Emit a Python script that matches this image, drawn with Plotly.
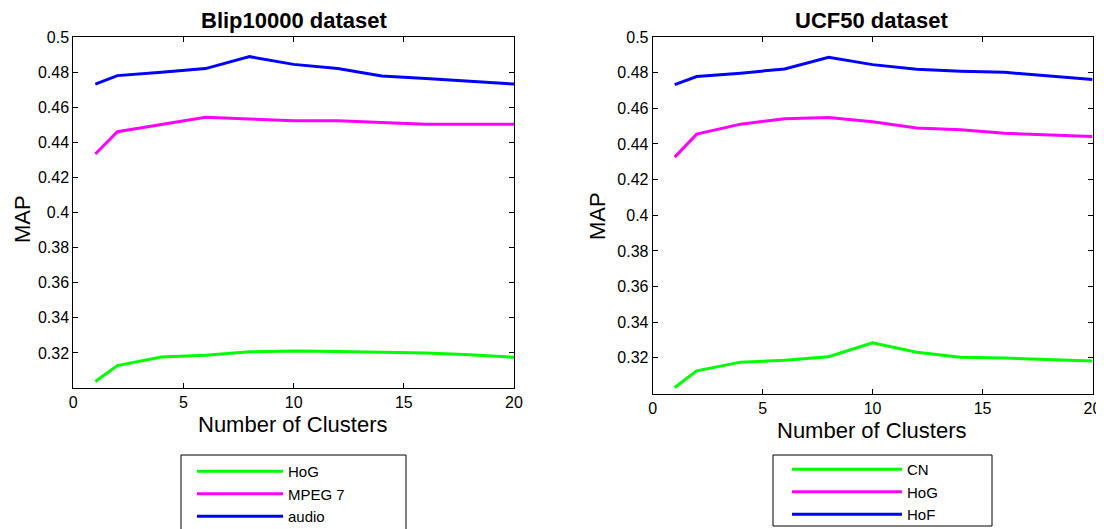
import plotly.graph_objects as go

clusters = [1, 2, 4, 6, 8, 10, 12, 14, 16, 18, 20]

# Blip10000 dataset
blip_hog = [0.3037, 0.3128, 0.3177, 0.3187, 0.3206, 0.3211, 0.3208, 0.3205, 0.3200, 0.3190, 0.3175]
blip_mpeg7 = [0.4333, 0.4460, 0.4502, 0.4543, 0.4533, 0.4523, 0.4523, 0.4513, 0.4503, 0.4503, 0.4503]
blip_audio = [0.4732, 0.4780, 0.4799, 0.4820, 0.4888, 0.4844, 0.4820, 0.4778, 0.4763, 0.4748, 0.4732]

# UCF50 dataset
ucf_cn = [0.3034, 0.3127, 0.3176, 0.3186, 0.3206, 0.3284, 0.3232, 0.3204, 0.3199, 0.3192, 0.3182]
ucf_hog = [0.4326, 0.4455, 0.4511, 0.4541, 0.4548, 0.4524, 0.4490, 0.4480, 0.4460, 0.4451, 0.4442]
ucf_hof = [0.4733, 0.4778, 0.4797, 0.4821, 0.4886, 0.4845, 0.4819, 0.4808, 0.4802, 0.4782, 0.4761]

titles = ["Blip10000 dataset", "UCF50 dataset"]
names_left = ["HoG", "MPEG 7", "audio"]
names_right = ["CN", "HoG", "HoF"]
colors = ["#00ff00", "#ff00ff", "#0000ff"]

yticks = [0.32, 0.34, 0.36, 0.38, 0.40, 0.42, 0.44, 0.46, 0.48, 0.50]
ytext = ["0.32", "0.34", "0.36", "0.38", "0.4", "0.42", "0.44", "0.46", "0.48", "0.5"]
xticks = [0, 5, 10, 15, 20]

FONT = "Liberation Sans, Arial, Helvetica, sans-serif"
OFF = 8  # page body margin
W, H = 1104 - OFF, 529 - OFF


def px(x):
    return (x - OFF) / W


def py(y):
    return 1 - (y - OFF) / H


fig = go.Figure()
for vals, name, col in zip([blip_hog, blip_mpeg7, blip_audio], names_left, colors):
    fig.add_trace(go.Scatter(x=clusters, y=vals, mode="lines", name=name,
                             line=dict(color=col, width=3), xaxis="x", yaxis="y",
                             legend="legend"))
for vals, name, col in zip([ucf_cn, ucf_hog, ucf_hof], names_right, colors):
    fig.add_trace(go.Scatter(x=clusters, y=vals, mode="lines", name=name,
                             line=dict(color=col, width=3), xaxis="x2", yaxis="y2",
                             legend="legend2"))


def xax(domain, anchor):
    return dict(domain=domain, anchor=anchor, range=[0, 20], tickvals=xticks,
                ticks="inside", ticklen=5, tickcolor="black", mirror="ticks",
                showline=True, linecolor="black", linewidth=1, showgrid=False,
                zeroline=False, tickfont=dict(size=16, color="black"), automargin=False)


def yax(domain, anchor):
    return dict(domain=domain, anchor=anchor, range=[0.30, 0.50], tickvals=yticks, ticktext=ytext,
                ticks="inside", ticklen=5, tickcolor="black", mirror="ticks",
                showline=True, linecolor="black", linewidth=1, showgrid=False,
                zeroline=False, tickfont=dict(size=16, color="black"), automargin=False)


def ann(text, x, y, size, angle=0):
    return dict(text=text, x=px(x), y=py(y), xref="paper", yref="paper", showarrow=False,
                font=dict(size=size, color="black"), xanchor="center", yanchor="middle",
                textangle=angle)


def frame(x0, y0, x1, y1):
    return dict(type="rect", xref="paper", yref="paper", x0=px(x0), x1=px(x1),
                y0=py(y1), y1=py(y0), line=dict(color="black", width=1), fillcolor="rgba(0,0,0,0)",
                layer="below")


fig.update_layout(
    width=W, height=H,
    margin=dict(l=0, r=0, t=0, b=0, autoexpand=False),
    paper_bgcolor="white", plot_bgcolor="white",
    font=dict(family=FONT, color="black"),
    xaxis=xax([px(73.3), px(514)], "y"),
    yaxis=yax([py(388), py(37)], "x"),
    xaxis2=xax([px(652.7), px(1092.5)], "y2"),
    yaxis2=yax([py(393.5), py(37)], "x2"),
    legend=dict(x=px(192), y=py(455), xanchor="left", yanchor="top",
                borderwidth=0, bgcolor="rgba(0,0,0,0)",
                font=dict(size=15, color="black"), itemwidth=86),
    legend2=dict(x=px(787), y=py(453), xanchor="left", yanchor="top",
                 borderwidth=0, bgcolor="rgba(0,0,0,0)",
                 font=dict(size=15, color="black"), itemwidth=110),
    shapes=[frame(181, 455, 406, 540), frame(773, 455, 992, 526)],
    annotations=[
        ann("<b>" + titles[0] + "</b>", 294, 20.5, 22),
        ann("<b>" + titles[1] + "</b>", 872, 20.5, 22),
        ann("Number of Clusters", 293, 424, 22),
        ann("Number of Clusters", 872, 430, 22),
        ann("MAP", 22, 219, 22, -90),
        ann("MAP", 597, 216, 22, -90),
    ],
)

fig.write_html("out.html")
